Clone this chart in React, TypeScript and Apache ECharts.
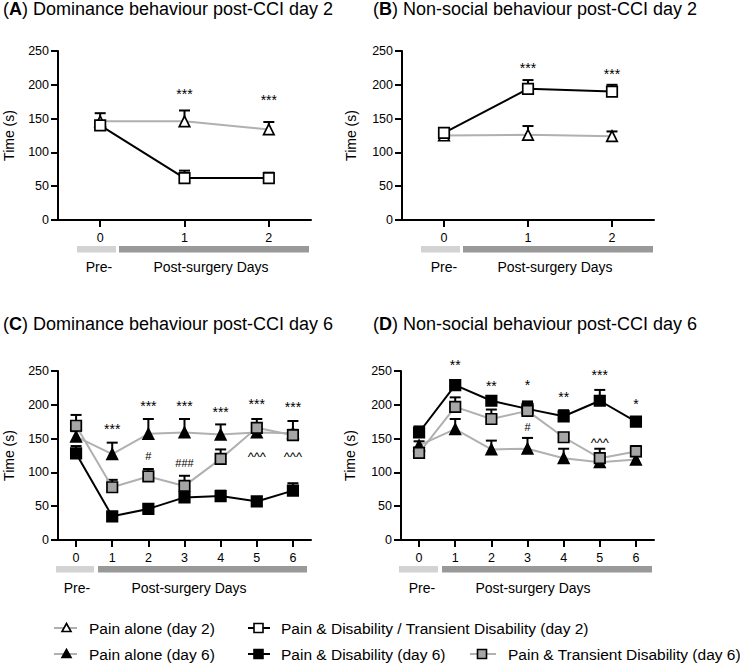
import React, { useEffect, useRef } from "react";
import * as echarts from "echarts";

const FONT = "Liberation Sans, Arial, Helvetica, sans-serif";

// ---------- categories ----------
const days2 = ["0", "1", "2"];
const days6 = ["0", "1", "2", "3", "4", "5", "6"];

// ---------- Panel A: Dominance day 2 ----------
const aPainMean = [146, 146, 134];
const aPainSem = [12, 16, 11];
const aPDMean = [140, 62, 62];
const aPDSem = [5, 11, 8];

// ---------- Panel B: Non-social day 2 ----------
const bPainMean = [125, 126, 124];
const bPainSem = [6, 13, 7];
const bPDMean = [129, 194, 190];
const bPDSem = [7, 13, 10];

// ---------- Panel C: Dominance day 6 ----------
const cPainMean = [153, 127, 157, 159, 156, 159, 158];
const cPainSem = [8, 17, 22, 20, 15, 8, 18];
const cPDMean = [128, 35, 46, 63, 65, 57, 73];
const cPDSem = [11, 4, 5, 6, 8, 4, 11];
const cPTDMean = [169, 78, 94, 80, 120, 166, 155];
const cPTDSem = [16, 11, 11, 15, 14, 13, 8];

// ---------- Panel D: Non-social day 6 ----------
const dPainMean = [140, 164, 134, 135, 121, 115, 119];
const dPainSem = [6, 15, 13, 16, 14, 5, 5];
const dPDMean = [159, 229, 206, 194, 183, 206, 175];
const dPDSem = [9, 7, 5, 11, 9, 16, 5];
const dPTDMean = [129, 197, 179, 191, 152, 121, 131];
const dPTDSem = [8, 14, 14, 12, 6, 14, 8];

// ---------- significance annotations (x index, y level, text) ----------
const aStarX = [1, 2];
const aStarY = [191, 182];
const aStarT = ["***", "***"];
const bStarX = [1, 2];
const bStarY = [230, 221];
const bStarT = ["***", "***"];
const cStarX = [1, 2, 3, 4, 5, 6];
const cStarY = [169, 203, 203, 194, 206, 201];
const cStarT = ["***", "***", "***", "***", "***", "***"];
const cHashX = [2, 3];
const cHashY = [124, 114];
const cHashT = ["#", "###"];
const cCaretX = [5, 6];
const cCaretY = [127, 127];
const cCaretT = ["^^^", "^^^"];
const dStarX = [1, 2, 3, 4, 5, 6];
const dStarY = [264, 232, 233, 216, 249, 206];
const dStarT = ["**", "**", "*", "**", "***", "*"];
const dHashX = [3];
const dHashY = [167];
const dHashT = ["#"];
const dCaretX = [5];
const dCaretY = [147];
const dCaretT = ["^^^"];

// ---------- tick labels ----------
const yMin = 0;
const yMax = 250;
const yStep = 50;

// ---------- names ----------
const NAME_PAIN2 = "Pain alone (day 2)";
const NAME_PD2 = "Pain & Disability / Transient Disability (day 2)";
const NAME_PAIN6 = "Pain alone (day 6)";
const NAME_PD6 = "Pain & Disability (day 6)";
const NAME_PTD6 = "Pain & Transient Disability (day 6)";

const GREY_LINE = "#b0b0b0";
const GREY_FILL = "#a6a6a6";

const panels = [
  { left: 58, top: 51, width: 253, cats: days2, title: "A", rest: " Dominance behaviour post-CCI day 2", tLeft: 3, tTop: 0, nameGap: 42 },
  { left: 402, top: 51, width: 252, cats: days2, title: "B", rest: " Non-social behaviour post-CCI day 2", tLeft: 373, tTop: 0, nameGap: 44 },
  { left: 58, top: 371, width: 253, cats: days6, title: "C", rest: " Dominance behaviour post-CCI day 6", tLeft: 3, tTop: 315, nameGap: 42 },
  { left: 401, top: 371, width: 253, cats: days6, title: "D", rest: " Non-social behaviour post-CCI day 6", tLeft: 373, tTop: 315, nameGap: 44 },
];
const GRID_H = 169;

type Sty = { symbol: string; fill: string; line: string };
const STY_PAIN2: Sty = { symbol: "triangle", fill: "#ffffff", line: GREY_LINE };
const STY_PD2: Sty = { symbol: "rect", fill: "#ffffff", line: "#000000" };
const STY_PAIN6: Sty = { symbol: "triangle", fill: "#000000", line: GREY_LINE };
const STY_PD6: Sty = { symbol: "rect", fill: "#000000", line: "#000000" };
const STY_PTD6: Sty = { symbol: "rect", fill: GREY_FILL, line: GREY_LINE };

function lineSeries(g: number, name: string, mean: number[], sty: Sty, z: number) {
  return {
    type: "line",
    name,
    xAxisIndex: g,
    yAxisIndex: g,
    data: mean,
    symbol: sty.symbol,
    symbolSize: 10.5,
    showAllSymbol: true,
    z,
    itemStyle: { color: sty.fill, borderColor: "#000", borderWidth: 1.7 },
    lineStyle: { color: sty.line, width: 2 },
    emphasis: { disabled: true },
  };
}

function errSeries(g: number, mean: number[], sem: number[]) {
  return {
    type: "custom",
    xAxisIndex: g,
    yAxisIndex: g,
    z: 1,
    silent: true,
    clip: false,
    data: mean.map((m, i) => [i, m, sem[i]]),
    renderItem: (params: any, api: any) => {
      const x = api.value(0);
      const m = api.value(1);
      const s = api.value(2);
      const p0 = api.coord([x, m]);
      const p1 = api.coord([x, m + s]);
      const hw = 5.5;
      return {
        type: "group",
        children: [
          { type: "line", shape: { x1: p0[0], y1: p0[1], x2: p1[0], y2: p1[1] }, style: { stroke: "#000", lineWidth: 2 } },
          { type: "line", shape: { x1: p1[0] - hw, y1: p1[1], x2: p1[0] + hw, y2: p1[1] }, style: { stroke: "#000", lineWidth: 2 } },
        ],
      };
    },
  };
}

function annotSeries(g: number, xs: number[], ys: number[], texts: string[], fontSize: number, shift: number) {
  return {
    type: "custom",
    xAxisIndex: g,
    yAxisIndex: g,
    z: 10,
    silent: true,
    clip: false,
    data: xs.map((x, i) => [x, ys[i]]),
    renderItem: (params: any, api: any) => {
      const p = api.coord([api.value(0), api.value(1)]);
      return {
        type: "text",
        x: p[0],
        y: p[1] + shift,
        style: {
          text: texts[params.dataIndex],
          fontSize,
          fontFamily: FONT,
          fill: "#000",
          align: "center",
          verticalAlign: "middle",
        },
      };
    },
  };
}

function legendItem(x1: number, x2: number, xs: number, y: number, lineColor: string, sty: Sty, textX: number, text: string) {
  const els: any[] = [
    { type: "line", shape: { x1, y1: y, x2, y2: y }, style: { stroke: lineColor, lineWidth: 2 } },
  ];
  if (sty.symbol === "triangle") {
    els.push({
      type: "polygon",
      shape: { points: [[xs, y - 4.5], [xs + 4.5, y + 3.5], [xs - 4.5, y + 3.5]] },
      style: { fill: sty.fill, stroke: "#000", lineWidth: 1.6 },
    });
  } else {
    els.push({
      type: "rect",
      shape: { x: xs - 4.5, y: y - 4.5, width: 9, height: 9 },
      style: { fill: sty.fill, stroke: "#000", lineWidth: 1.6 },
    });
  }
  els.push({
    type: "text",
    x: textX,
    y,
    style: { text, fontSize: 15.5, fontFamily: FONT, fill: "#000", align: "left", verticalAlign: "middle" },
  });
  return els;
}

function buildOption() {
  const grid = panels.map((p) => ({ left: p.left, top: p.top, width: p.width, height: GRID_H, containLabel: false }));
  const xAxis = panels.map((p, i) => ({
    type: "category",
    gridIndex: i,
    data: p.cats,
    boundaryGap: true,
    axisLine: { show: true, lineStyle: { color: "#000", width: 2 } },
    axisTick: { show: true, alignWithLabel: true, length: 7, lineStyle: { color: "#000", width: 2 } },
    axisLabel: { fontSize: 12.5, color: "#000", margin: 11, fontFamily: FONT },
    splitLine: { show: false },
  }));
  const yAxis = panels.map((p, i) => ({
    type: "value",
    gridIndex: i,
    min: yMin,
    max: yMax,
    interval: yStep,
    name: "Time (s)",
    nameLocation: "middle",
    nameGap: p.nameGap,
    nameTextStyle: { fontSize: 14, color: "#000", fontFamily: FONT },
    axisLine: { show: true, lineStyle: { color: "#000", width: 2 } },
    axisTick: { show: true, length: 7, lineStyle: { color: "#000", width: 2 } },
    axisLabel: { fontSize: 12.5, color: "#000", margin: 9, fontFamily: FONT },
    splitLine: { show: false },
  }));
  const title = panels.map((p) => ({
    left: p.tLeft,
    top: p.tTop,
    padding: 0,
    text: "({b|" + p.title + "})" + p.rest,
    textStyle: {
      fontSize: 18,
      fontWeight: "normal",
      color: "#000",
      fontFamily: FONT,
      rich: { b: { fontSize: 18, fontWeight: "bold", color: "#000", fontFamily: FONT } },
    },
  }));

  const series: any[] = [
    // A
    errSeries(0, aPainMean, aPainSem),
    errSeries(0, aPDMean, aPDSem),
    lineSeries(0, NAME_PAIN2, aPainMean, STY_PAIN2, 3),
    lineSeries(0, NAME_PD2, aPDMean, STY_PD2, 4),
    annotSeries(0, aStarX, aStarY, aStarT, 14, 3),
    // B
    errSeries(1, bPainMean, bPainSem),
    errSeries(1, bPDMean, bPDSem),
    lineSeries(1, NAME_PAIN2, bPainMean, STY_PAIN2, 3),
    lineSeries(1, NAME_PD2, bPDMean, STY_PD2, 4),
    annotSeries(1, bStarX, bStarY, bStarT, 14, 3),
    // C
    errSeries(2, cPainMean, cPainSem),
    errSeries(2, cPDMean, cPDSem),
    errSeries(2, cPTDMean, cPTDSem),
    lineSeries(2, NAME_PAIN6, cPainMean, STY_PAIN6, 3),
    lineSeries(2, NAME_PD6, cPDMean, STY_PD6, 4),
    lineSeries(2, NAME_PTD6, cPTDMean, STY_PTD6, 5),
    annotSeries(2, cStarX, cStarY, cStarT, 14, 3),
    annotSeries(2, cHashX, cHashY, cHashT, 11, 0),
    annotSeries(2, cCaretX, cCaretY, cCaretT, 13, 2),
    // D
    errSeries(3, dPainMean, dPainSem),
    errSeries(3, dPDMean, dPDSem),
    errSeries(3, dPTDMean, dPTDSem),
    lineSeries(3, NAME_PAIN6, dPainMean, STY_PAIN6, 3),
    lineSeries(3, NAME_PD6, dPDMean, STY_PD6, 4),
    lineSeries(3, NAME_PTD6, dPTDMean, STY_PTD6, 5),
    annotSeries(3, dStarX, dStarY, dStarT, 14, 3),
    annotSeries(3, dHashX, dHashY, dHashT, 11, 0),
    annotSeries(3, dCaretX, dCaretY, dCaretT, 13, 2),
  ];

  // period bars under x axes
  const periods = [
    { lx1: 77, lx2: 116, dx1: 119, dx2: 309, y: 246, preX: 99, postX: 211, ty: 267 },
    { lx1: 421, lx2: 460, dx1: 463, dx2: 653, y: 246, preX: 444, postX: 555, ty: 267 },
    { lx1: 56, lx2: 94, dx1: 98, dx2: 307, y: 566, preX: 77, postX: 189, ty: 588 },
    { lx1: 399, lx2: 438, dx1: 442, dx2: 652, y: 566, preX: 422, postX: 533, ty: 588 },
  ];
  const graphic: any[] = [];
  periods.forEach((p) => {
    graphic.push({ type: "rect", shape: { x: p.lx1, y: p.y, width: p.lx2 - p.lx1, height: 6.5 }, style: { fill: "#d3d3d3" }, silent: true });
    graphic.push({ type: "rect", shape: { x: p.dx1, y: p.y, width: p.dx2 - p.dx1, height: 6.5 }, style: { fill: "#999999" }, silent: true });
    graphic.push({ type: "text", x: p.preX, y: p.ty, style: { text: "Pre-", fontSize: 14, fontFamily: FONT, fill: "#000", align: "center", verticalAlign: "middle" }, silent: true });
    graphic.push({ type: "text", x: p.postX, y: p.ty, style: { text: "Post-surgery Days", fontSize: 14, fontFamily: FONT, fill: "#000", align: "center", verticalAlign: "middle" }, silent: true });
  });
  graphic.push(...legendItem(54, 77, 66.5, 628, GREY_LINE, STY_PAIN2, 89, NAME_PAIN2));
  graphic.push(...legendItem(248, 270, 258.5, 628, "#000", STY_PD2, 281, NAME_PD2));
  graphic.push(...legendItem(54, 77, 66.5, 654, GREY_LINE, STY_PAIN6, 89, NAME_PAIN6));
  graphic.push(...legendItem(248, 270, 258.5, 654, "#000", STY_PD6, 281, NAME_PD6));
  graphic.push(...legendItem(470, 496, 482, 654, GREY_LINE, STY_PTD6, 508, NAME_PTD6));

  return {
    animation: false,
    backgroundColor: "#ffffff",
    textStyle: { fontFamily: FONT },
    title,
    grid,
    xAxis,
    yAxis,
    series,
    graphic,
  };
}

export default function App() {
  const ref = useRef<HTMLDivElement>(null);
  useEffect(() => {
    document.body.style.margin = "0";
    const chart = echarts.init(ref.current as HTMLDivElement, null, { renderer: "svg" });
    chart.setOption(buildOption() as any);
    return () => chart.dispose();
  }, []);
  return <div ref={ref} style={{ width: 740, height: 665 }} />;
}
